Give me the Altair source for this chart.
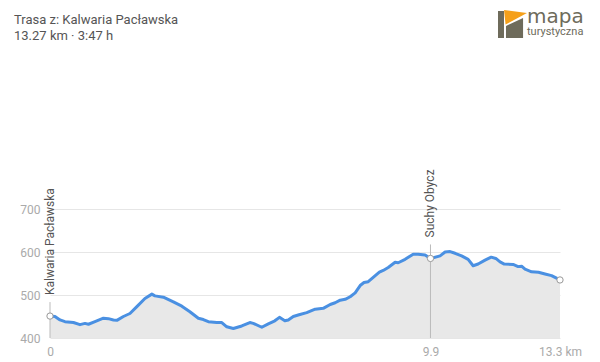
import altair as alt
import pandas as pd

# Elevation profile (distance km, elevation m)
km = [0, 0.13, 0.26, 0.39, 0.61, 0.78, 0.91, 1.00, 1.17, 1.39, 1.52, 1.65, 1.74, 1.91, 2.08,
      2.26, 2.47, 2.65, 2.73, 2.95, 3.21, 3.43, 3.64, 3.86, 3.99, 4.12, 4.34, 4.47, 4.60, 4.77,
      4.99, 5.20, 5.29, 5.51, 5.68, 5.85, 5.97, 6.11, 6.20, 6.33, 6.48, 6.68, 6.90, 7.11, 7.29,
      7.42, 7.55, 7.68, 7.81, 7.94, 8.07, 8.17, 8.28, 8.41, 8.57, 8.67, 8.80, 8.98, 9.06, 9.24,
      9.45, 9.58, 9.76, 9.90, 10.15, 10.28, 10.41, 10.54, 10.71, 10.88, 11.01, 11.14, 11.32, 11.48,
      11.60, 11.71, 11.82, 12.05, 12.18, 12.27, 12.36, 12.53, 12.71, 12.88, 13.05, 13.27]
elev = [451, 450, 442, 438, 436, 431, 434, 432, 438, 446, 445, 442, 441, 450, 457,
        473, 492, 502, 498, 495, 484, 474, 461, 446, 443, 438, 436, 436, 426, 422,
        428, 436, 434, 425, 433, 440, 448, 440, 442, 450, 454, 459, 467, 469, 478,
        482, 488, 490, 496, 505, 522, 529, 531, 541, 553, 557, 564, 576, 575, 583,
        595, 595, 593, 585, 591, 600, 601, 597, 591, 583, 568, 572, 581, 588,
        585, 577, 572, 571, 566, 567, 560, 554, 553, 549, 545, 535]

# Waypoints
wp_names = ["Kalwaria Pacławska", "Suchy Obycz", ""]
wp_km = [0, 9.9, 13.27]
wp_elev = [451, 585, 535]

# Axis ticks
y_ticks = [400, 500, 600, 700]
x_tick_values = [0, 9.9, 13.27]
x_tick_labels = ["0", "9.9", "13.3 km"]

title_lines = ["Trasa z: Kalwaria Pacławska", "13.27 km · 3:47 h"]
logo_big = ["mapa"]
logo_small = ["turystyczna"]

profile = pd.DataFrame({"km": km, "elev": elev})
wps = pd.DataFrame({"km": wp_km, "elev": wp_elev, "name": wp_names})
labeled = wps[wps["name"] != ""]

label_expr = " : ".join(
    f"datum.value == {v} ? '{l}'" for v, l in zip(x_tick_values, x_tick_labels)
) + " : ''"

x_scale = alt.Scale(domain=[0, 13.27], nice=False, zero=False)
y_scale = alt.Scale(domain=[400, 800], nice=False, zero=False)

x_enc = alt.X("km:Q", scale=x_scale, axis=alt.Axis(
    values=x_tick_values, labelExpr=label_expr, grid=False, ticks=False, domain=False,
    title=None, labelColor="#aaaaaa", labelFontSize=12, labelPadding=8,
    labelOverlap=False, labelBound=False, labelFlush=False, labelFont="Roboto"))
y_enc = alt.Y("elev:Q", scale=y_scale, axis=alt.Axis(
    values=y_ticks, grid=True, gridColor="#e6e6e6", ticks=False, domain=False,
    title=None, labelColor="#aaaaaa", labelFontSize=12, labelPadding=10, labelFont="Roboto"))

base = alt.Chart(profile)
area = base.mark_area(color="#e8e8e8", opacity=1).encode(x=x_enc, y=y_enc, y2=alt.datum(400))
line = base.mark_line(color="#4a90e2", strokeWidth=3, strokeJoin="round").encode(x="km:Q", y="elev:Q")

rules = alt.Chart(labeled).mark_rule(color="#bbbbbb", strokeWidth=1, yOffset=-14).encode(
    x="km:Q", y="elev:Q", y2=alt.datum(400))
names = alt.Chart(labeled).mark_text(
    angle=270, align="left", baseline="middle", yOffset=-21, fontSize=12,
    font="Roboto", color="#555555").encode(x="km:Q", y="elev:Q", text="name:N")
dots = alt.Chart(wps).mark_point(
    shape="circle", filled=True, fill="white", stroke="#999999", strokeWidth=1,
    size=40, opacity=1).encode(x="km:Q", y="elev:Q")

# Title lines (pixel positions relative to plot origin)
t1 = alt.Chart(pd.DataFrame({"t": title_lines[:1]})).mark_text(
    align="left", baseline="alphabetic", fontSize=13, font="Roboto", color="#555555").encode(
    text="t:N", x=alt.value(-36), y=alt.value(-142))
t2 = alt.Chart(pd.DataFrame({"t": title_lines[1:]})).mark_text(
    align="left", baseline="alphabetic", fontSize=13, font="Roboto", color="#555555").encode(
    text="t:N", x=alt.value(-36), y=alt.value(-126.5))

# Logo
logo_color = "#6e6b5b"
icon_paths = [
    ("M -1 -0.93 L -0.57 -0.93 L -0.57 1 L -1 1 Z", logo_color),
    ("M -0.43 0.14 L 0.79 -0.43 L 0.79 1 L -0.43 1 Z", logo_color),
    ("M -0.57 -1 L 1.07 -0.79 L -0.46 0.04 Z", "#f5a01a"),
]
icon_layers = []
for p, c in icon_paths:
    icon_layers.append(
        alt.Chart(pd.DataFrame({"k": [0]})).mark_point(
            shape=p, filled=True, color=c, opacity=1, size=784, strokeWidth=0).encode(
            x=alt.value(462), y=alt.value(-142)))
l1 = alt.Chart(pd.DataFrame({"t": logo_big})).mark_text(
    align="left", baseline="alphabetic", fontSize=20, font="DejaVu Sans",
    color=logo_color).encode(text="t:N", x=alt.value(477), y=alt.value(-143))
l2 = alt.Chart(pd.DataFrame({"t": logo_small})).mark_text(
    align="left", baseline="alphabetic", fontSize=11, font="Roboto",
    color=logo_color).encode(text="t:N", x=alt.value(477), y=alt.value(-131))

chart = alt.layer(area, line, rules, dots, names, t1, t2, *icon_layers, l1, l2).properties(
    width=510, height=172,
    autosize=alt.AutoSizeParams(type="none"),
    padding={"left": 42, "top": 158, "right": 30, "bottom": 22},
).configure(background="white").configure_view(stroke=None)

chart.save("out.html", embed_options={"renderer": "svg", "actions": False})
